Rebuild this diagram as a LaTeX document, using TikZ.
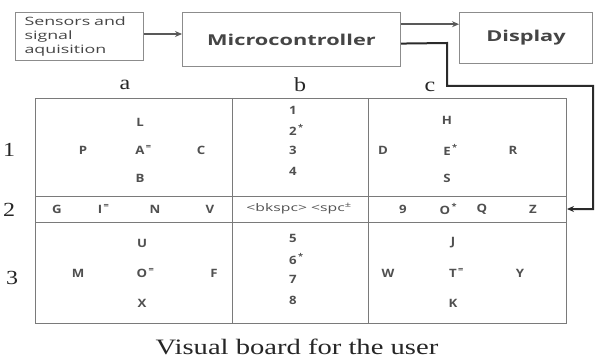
\documentclass[tikz,border=0pt]{standalone}
\usepackage{fontspec}
\setmainfont{Liberation Serif}[FakeStretch=1.2]
\newfontfamily\capfont{Liberation Serif}[FakeStretch=1.3]
\newfontfamily\boxfont{Open Sans}[FakeStretch=1.45]
\newfontfamily\sensfont{Open Sans}[FakeStretch=1.55]
\newfontfamily\keyfont{Open Sans}[FakeStretch=1.15]
\newfontfamily\spcfont{Open Sans}[FakeStretch=1.5]
\usetikzlibrary{arrows.meta,calc}
\definecolor{boxgray}{HTML}{8C8C8C}
\definecolor{txtgray}{HTML}{454545}
\definecolor{keygray}{HTML}{505050}
\definecolor{gridgray}{HTML}{7A7A7A}
\definecolor{wirecol}{HTML}{2A2A2A}
\newcommand{\kmark}[1]{\rlap{\textsuperscript{\,#1}}}
\begin{document}
\begin{tikzpicture}[x=1pt,y=-1pt,
  blk/.style={draw=boxgray, line width=1pt, inner ysep=0pt, text=txtgray},
  lab/.style={font=\fontsize{20}{20}\selectfont, text=black!85, inner sep=0pt},
  key/.style={font=\keyfont\bfseries\fontsize{11.5}{12}\selectfont, text=keygray, inner sep=0pt},
  gridline/.style={draw=gridgray, line width=1pt},
  arr/.style={-{Stealth[length=7pt,width=6pt]}, line width=1.5pt, draw=black!65},
  wire/.style={-{Stealth[length=7pt,width=6pt]}, line width=2pt, draw=wirecol},
]
\useasboundingbox (0,0) rectangle (600,361);
% top blocks
\node[blk, anchor=north west, minimum width=128pt, minimum height=48pt,
      text width=110pt, inner xsep=9pt, align=left,
      font=\sensfont\fontsize{11.5}{14.3}\selectfont] (sensors) at (15,12)
      {Sensors and\\signal\\aquisition};
\node[blk, anchor=north west, minimum width=218pt, minimum height=54pt,
      font=\boxfont\bfseries\fontsize{15}{16}\selectfont] (micro) at (182,12)
      {Microcontroller};
\node[blk, anchor=north west, minimum width=133pt, minimum height=51pt,
      font=\boxfont\bfseries\fontsize{15}{16}\selectfont] (display) at (459,12)
      {Display};
% connectors
\draw[arr] (sensors.east |- 0,34) -- (micro.west |- 0,34);
\coordinate (mo1) at ($(micro.north east)!0.222!(micro.south east)$);
\coordinate (mo2) at ($(micro.north east)!0.574!(micro.south east)$);
\draw[arr] (mo1) -- (mo1 -| display.west);
% board
\node[draw=gridgray, line width=1pt, anchor=north west, minimum width=531pt,
      minimum height=225pt, inner sep=0pt] (board) at (35,98) {};
\draw[gridline] (35,196) -- (566,196);
\draw[gridline] (35,222) -- (566,222);
\draw[gridline] (232,98) -- (232,323);
\draw[gridline] (368,98) -- (368,323);
\coordinate (row2e) at (board.east |- 0,209);
\draw[wire] (mo2) -- (447,43) -- (447,86) -- (593,86) -- (593,209) -- (row2e);
% column / row labels
\node[lab] (ca) at (125,85) {a};
\node[lab] (cb) at (300,85) {b};
\node[lab] (cc) at (430,87) {c};
\node[lab] (r1) at (9,150) {1};
\node[lab] (r2) at (9,210) {2};
\node[lab] (r3) at (12,278) {3};
% cell a1
\node[key] (a1L) at (140,122) {L};
\node[key] (a1P) at (83,150) {P};
\node[key] (a1A) at (140,150) {A\kmark{=}};
\node[key] (a1C) at (201,150) {C};
\node[key] (a1B) at (140,178) {B};
% cell b1
\node[key] (b11) at (293,110) {1};
\node[key] (b12) at (293,130) {2\kmark{*}};
\node[key] (b13) at (293,150) {3};
\node[key] (b14) at (293,171) {4};
% cell c1
\node[key] (c1H) at (447,120) {H};
\node[key] (c1D) at (383,150) {D};
\node[key] (c1E) at (447,150) {E\kmark{*}};
\node[key] (c1R) at (513,150) {R};
\node[key] (c1S) at (447,178) {S};
% row 2
\node[key] (a2G) at (57,209) {G};
\node[key] (a2I) at (100,209) {I\kmark{=}};
\node[key] (a2N) at (155,209) {N};
\node[key] (a2V) at (210,209) {V};
\node[key, font=\spcfont\fontsize{10.5}{11}\selectfont] (b2) at (299,209) {<bkspc> <spc\textsuperscript{±}};
\node[key] (c29) at (403,209) {9};
\node[key] (c2O) at (445,209) {O\kmark{*}};
\node[key] (c2Q) at (482,209) {Q};
\node[key] (c2Z) at (533,209) {Z};
% cell a3
\node[key] (a3U) at (142,243) {U};
\node[key] (a3M) at (78,273) {M};
\node[key] (a3O) at (142,273) {O\kmark{=}};
\node[key] (a3F) at (214,273) {F};
\node[key] (a3X) at (142,303) {X};
% cell b3
\node[key] (b35) at (293,238) {5};
\node[key] (b36) at (293,259) {6\kmark{*}};
\node[key] (b37) at (293,279) {7};
\node[key] (b38) at (293,300) {8};
% cell c3
\node[key] (c3J) at (453,243) {J};
\node[key] (c3W) at (388,273) {W};
\node[key] (c3T) at (453,273) {T\kmark{=}};
\node[key] (c3Y) at (520,273) {Y};
\node[key] (c3K) at (453,303) {K};
% caption
\node[font=\capfont\fontsize{22}{22}\selectfont, text=black!85, inner sep=0pt] (cap) at (297,347) {Visual board for the user};
\end{tikzpicture}
\end{document}
